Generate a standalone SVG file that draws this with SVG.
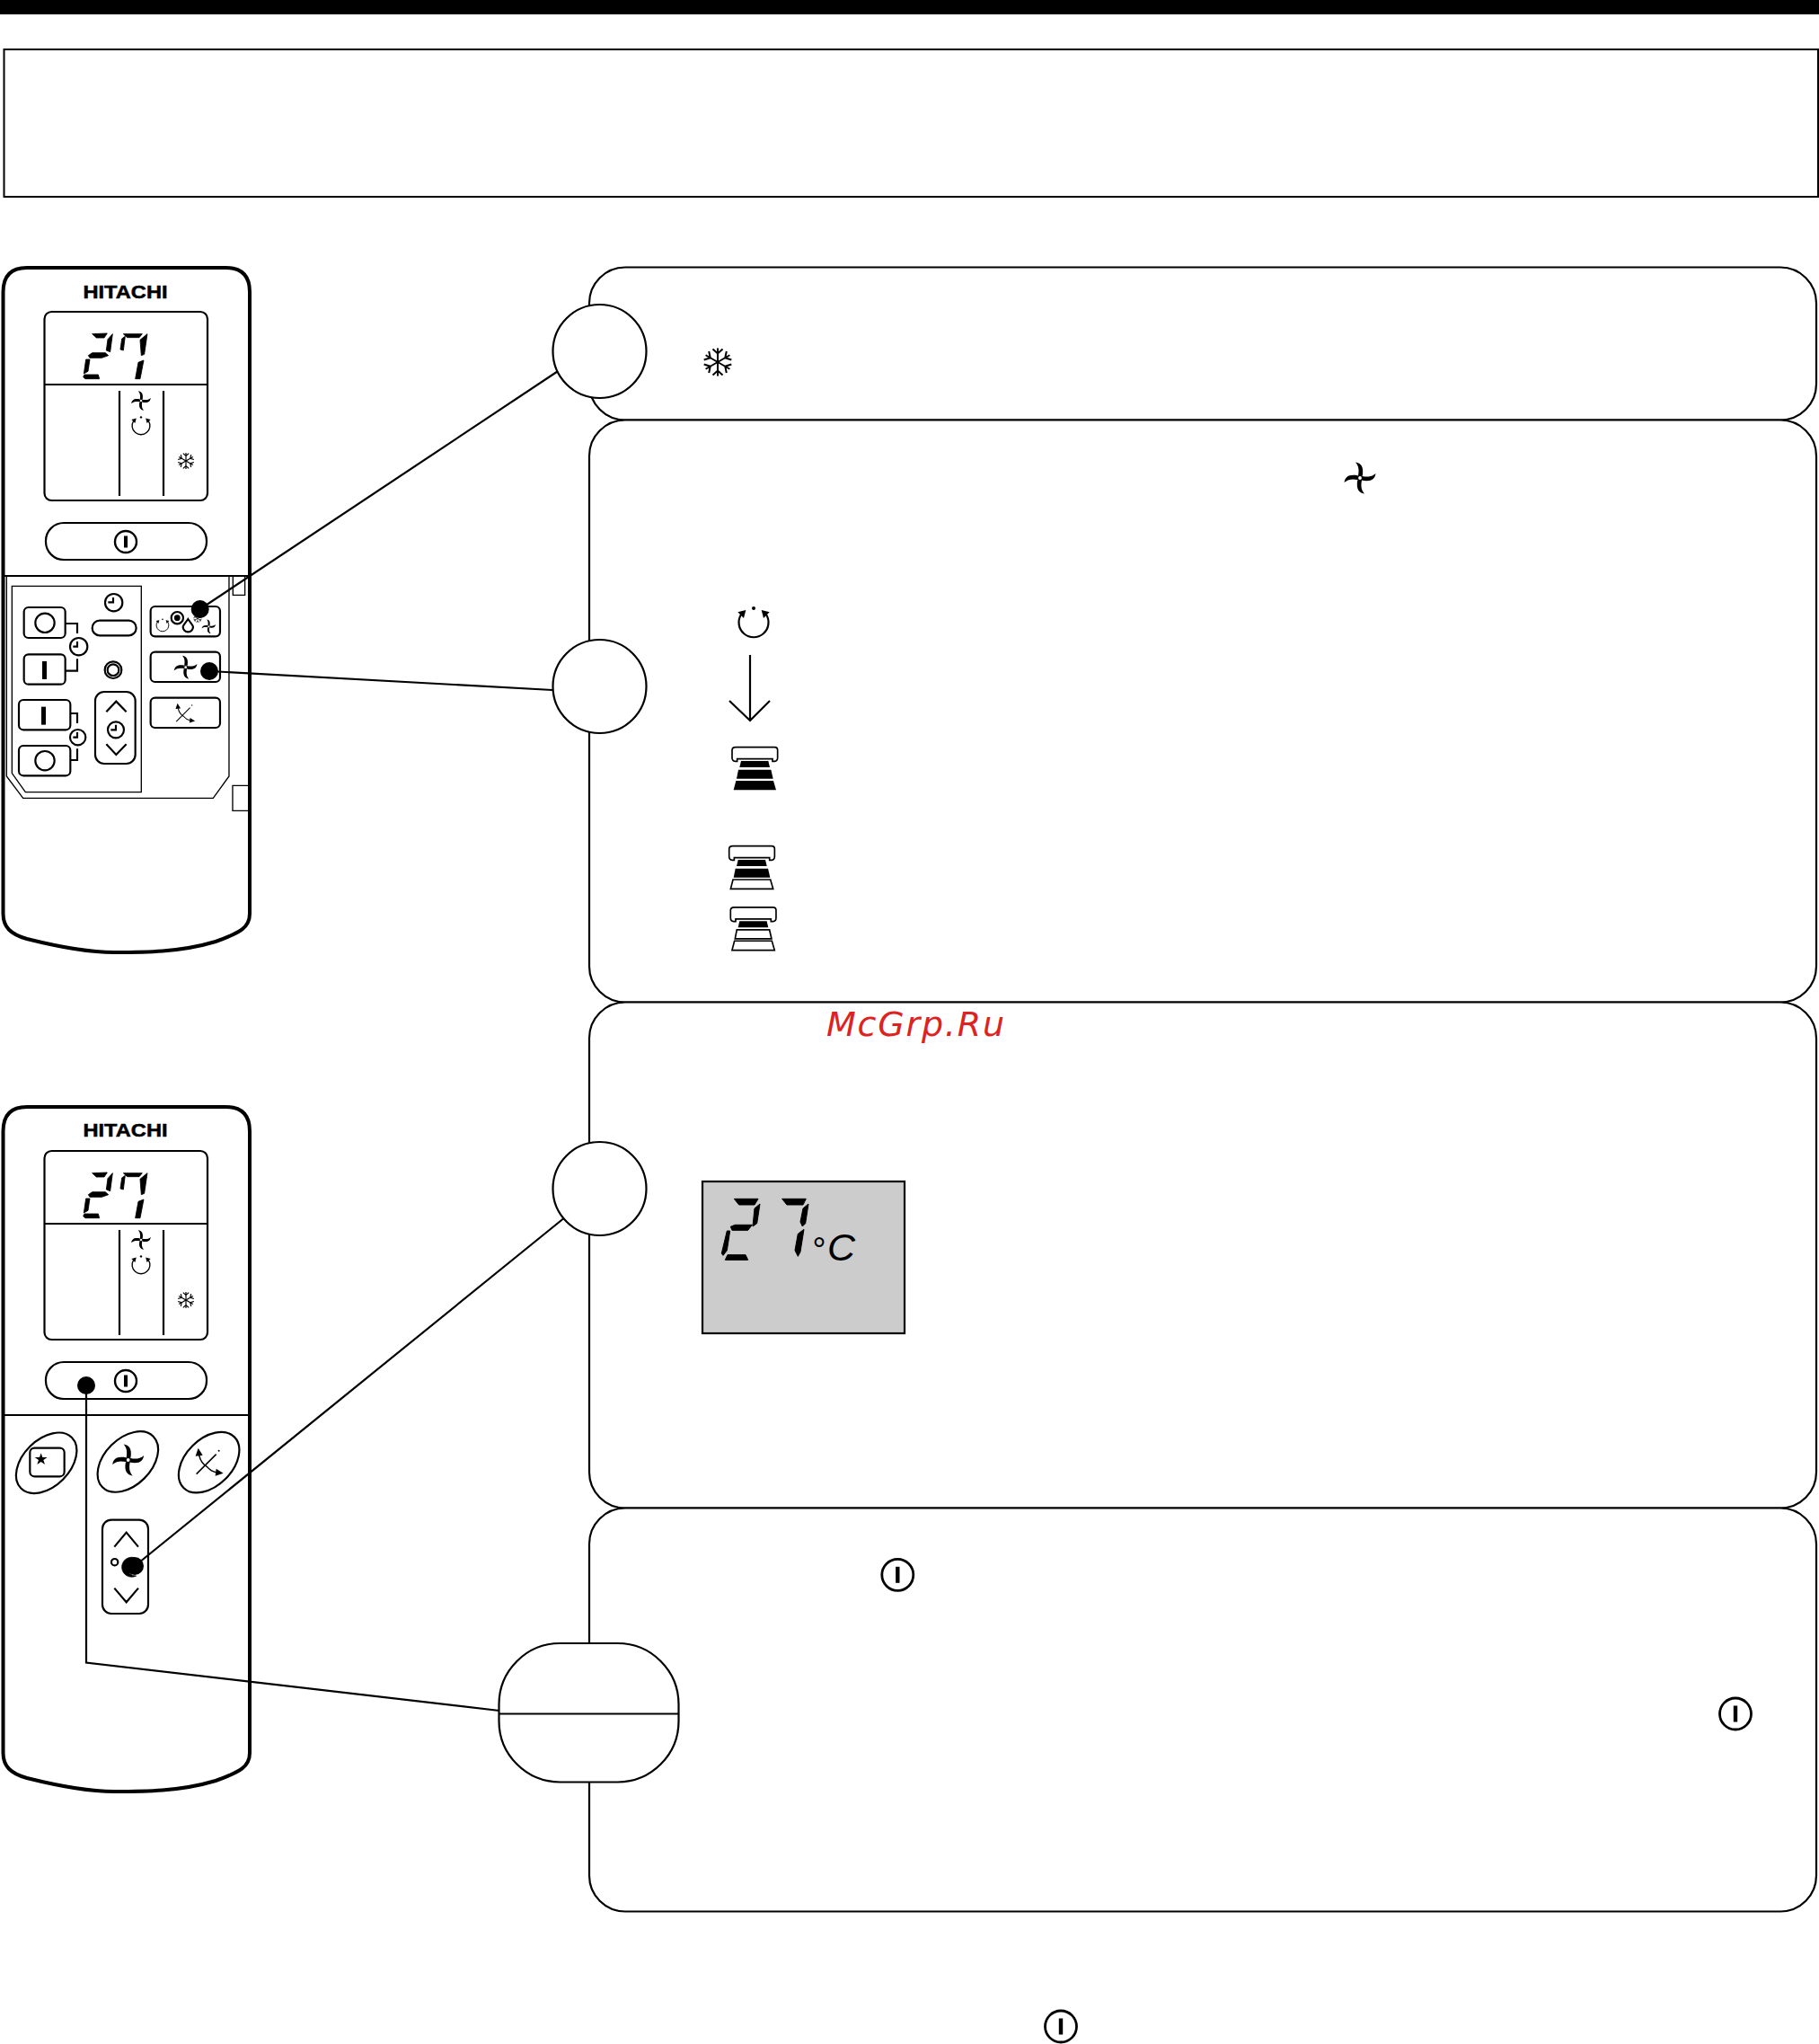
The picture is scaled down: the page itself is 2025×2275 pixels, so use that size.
<svg xmlns="http://www.w3.org/2000/svg" xmlns:xlink="http://www.w3.org/1999/xlink" width="2025" height="2275" viewBox="0 0 2025 2275">
<style>
.o{fill:none;stroke:#000;stroke-width:2.2}
.w{fill:#fff;stroke:#000;stroke-width:2.2}
.k{fill:#000;stroke:none}
.z{stroke-width:6.500;stroke:#000;fill:none}
.z .t{stroke-width:4}
.z .k{stroke:none}
.brand{font-family:"Liberation Sans",Arial,sans-serif;font-weight:700;font-size:20px;fill:#000;stroke:#000;stroke-width:.5}
</style>
<defs>
<path id="blade" d="M-2,-2.500C-1,-8 -1,-13 -5,-17.500C1,-16.500 4.500,-13 2.800,-2.500Z" fill="#000" stroke="none"/>
<g id="fan">
<use xlink:href="#blade"/><use xlink:href="#blade" transform="rotate(90)"/><use xlink:href="#blade" transform="rotate(180)"/><use xlink:href="#blade" transform="rotate(270)"/>
<circle r="2.600" fill="#fff" stroke="#000" stroke-width="1.400"/>
</g>
<g id="rot">
<path d="M-14,-9A16.500,16.500 0 1 0 14,-9" fill="none" stroke="#000" stroke-width="2.200"/>
<polygon points="-17.700,-11.700 -8.700,-14 -11,-5" fill="#000" stroke="none"/>
<polygon points="17.700,-11.700 8.700,-14 11,-5" fill="#000" stroke="none"/>
<circle cy="-16" r="2" fill="#000" stroke="none"/>
</g>
<g id="flakeArm">
<path d="M0,0V-15.500M-5.500,-14.500L0,-9.500L5.500,-14.500" fill="none" stroke="#000" stroke-width="2"/>
</g>
<g id="flake">
<use xlink:href="#flakeArm"/><use xlink:href="#flakeArm" transform="rotate(60)"/><use xlink:href="#flakeArm" transform="rotate(120)"/><use xlink:href="#flakeArm" transform="rotate(180)"/><use xlink:href="#flakeArm" transform="rotate(240)"/><use xlink:href="#flakeArm" transform="rotate(300)"/>
</g>
<g id="swing">
<path d="M-14,13L8,-9M-11,-8Q-9,1 -2,5Q2,10 8,11" fill="none" stroke="#000" stroke-width="1.500"/>
<circle cx="11" cy="-13" r="1" fill="#000" stroke="none"/>
<polygon points="-12,-16 -7,-8 -15,-7" fill="#000" stroke="none"/>
<polygon points="16,12 7,15 8,7" fill="#000" stroke="none"/>
</g>
<g id="power">
<circle r="17.500" fill="#fff" stroke="#000" stroke-width="2.800"/>
<rect x="-2.200" y="-9" width="4.400" height="18" fill="#000"/>
</g>
<g id="powerSmall">
<circle r="12" fill="#fff" stroke="#000" stroke-width="2.400"/>
<rect x="-2" y="-6.500" width="4" height="13" fill="#000"/>
</g>
<g id="unitTop">
<path d="M177,545H307Q317,545 317,555V580Q317,592 307,592H300V584H182V592H175Q165,592 165,580V555Q165,545 177,545Z" fill="#fff" stroke="#000" stroke-width="5"/>
</g>
<polygon id="t1" points="195,591 286,591 291,612 190,612"/>
<polygon id="t2" points="186,620 295,620 302,650 180,650"/>
<polygon id="t3" points="178,657 303,657 312,688 170,688"/>
<g id="digits" stroke="#000" stroke-width="2.500">
<polygon points="68,50 118,48 108,63 82,63"/>
<polygon points="136,50 128,110 115,105 120,68"/>
<polygon points="55,122 68,113 112,113 122,122 100,130 60,130"/>
<polygon points="47,135 60,135 54,175 40,183"/>
<polygon points="42,186 88,186 92,200 45,200 38,194"/>
<polygon points="178,58 172,105 162,102 167,66"/>
<polygon points="172,50 235,50 225,62 185,62"/>
<polygon points="252,50 242,118 232,122 228,70"/>
<polygon points="240,138 228,200 212,200 222,145"/>
</g>
<g id="remoteBody">
<path d="M3.500,325Q3.500,298 30,298H251Q278,298 278,325V1017C278,1032 268,1038 240,1048C200,1060 160,1060 127,1060C90,1060 50,1050 30,1045C12,1040 3.500,1032 3.500,1017Z" fill="#fff" stroke="#000" stroke-width="4"/>
<rect x="49.500" y="347" width="181.500" height="210" rx="8" class="o"/>
<path d="M50,428H230M133,435V552M182,435V552" class="o"/>
<use xlink:href="#digits" transform="translate(80,355) scale(.3333)"/>
<use xlink:href="#fan" transform="translate(157,446) scale(.62)"/>
<use xlink:href="#rot" transform="translate(157,474) scale(.6)"/>
<use xlink:href="#flake" transform="translate(207,513) scale(.58)"/>
<rect x="51" y="582" width="179" height="41" rx="20" class="o"/>
<use xlink:href="#powerSmall" transform="translate(140,603)"/>
<path d="M4,641H277" class="o"/>
</g>
</defs>
<g id="header">
<rect x="0" y="0" width="2025" height="16" fill="#000"/>
<rect x="4.500" y="55" width="2019.500" height="164" fill="#fff" stroke="#000" stroke-width="2"/>
</g>
<g id="panel-1"><rect x="656" y="297.500" width="1366" height="170" rx="40" class="w"/>
<use xlink:href="#flake" transform="translate(799,403)"/></g>
<g id="panel-2"><rect x="656" y="467.500" width="1366" height="648" rx="40" class="w"/>
<use xlink:href="#fan" transform="translate(1514,532)"/>
<use xlink:href="#rot" transform="translate(839,693)"/>
<path d="M835,729V802M812,780L835,802L857,780" fill="none" stroke="#000" stroke-width="2.200"/>
<g transform="translate(760,650) scale(.3333)">
<use xlink:href="#unitTop"/><use xlink:href="#t1"/><use xlink:href="#t2"/><use xlink:href="#t3"/>
</g>
<g transform="translate(756.700,760) scale(.3333)">
<use xlink:href="#unitTop"/><use xlink:href="#t1"/><use xlink:href="#t2"/><use xlink:href="#t3" fill="#fff" stroke="#000" stroke-width="5"/>
</g>
<g transform="translate(758.300,828.300) scale(.3333)">
<use xlink:href="#unitTop"/><use xlink:href="#t1"/><use xlink:href="#t2" fill="#fff" stroke="#000" stroke-width="5"/><use xlink:href="#t3" fill="#fff" stroke="#000" stroke-width="5"/>
</g></g>
<g id="panel-3"><rect x="656" y="1115.500" width="1366" height="563" rx="40" class="w"/>
<rect x="782" y="1315" width="225" height="169" fill="#ccc" stroke="#000" stroke-width="2.200"/>
<g transform="translate(760,1290) scale(.3333)" stroke="#000" stroke-width="3">
<polygon points="172,133 252,133 240,153 188,153"/>
<polygon points="258,150 248,215 234,225 240,165"/>
<polygon points="160,226 175,220 232,220 218,238 165,238"/>
<polygon points="148,240 158,240 148,305 135,322 130,315"/>
<polygon points="150,320 210,320 218,337 142,337"/>
<polygon points="332,133 412,133 402,153 348,153"/>
<polygon points="420,150 410,215 400,225 393,210 402,165"/>
<polygon points="405,235 393,310 385,325 375,305 385,250"/>
</g>
<text x="903" y="1404" font-family="'Liberation Sans',Arial,sans-serif" font-style="italic" font-size="38" fill="#000">°<tspan x="921" y="1403" font-size="43">C</tspan></text>
</g>
<g id="panel-4"><rect x="656" y="1678.500" width="1366" height="449" rx="40" class="w"/>
<use xlink:href="#power" transform="translate(999.300,1752.800)"/>
<use xlink:href="#power" transform="translate(1932,1907.500)"/>
</g>
<use id="power-bottom" xlink:href="#power" transform="translate(1181,2255.500)"/>
<g id="remote-1">
<use xlink:href="#remoteBody"/>
<text class="brand" x="92.500" y="332" textLength="94" lengthAdjust="spacingAndGlyphs">HITACHI</text>
<g class="z" transform="translate(0,620) scale(.3333)">
<g class="t"><path d="M22,62V732L77,805H712L765,732V62"/><path d="M40,97H472V785H85L40,722Z"/><path d="M778,65V127H818V65"/><path d="M828,763H777V847H828"/></g>
<rect x="80" y="168" width="138" height="102" rx="15"/><circle cx="150" cy="220" r="32"/>
<path d="M218,222H258V255M258,340V380H218"/><circle cx="263" cy="299" r="29"/><path d="M258,282V299H244"/>
<rect x="80" y="325" width="138" height="100" rx="15"/><rect class="k" x="141" y="348" width="15" height="60"/>
<rect x="63" y="477" width="172" height="100" rx="15"/><rect class="k" x="138" y="500" width="15" height="60"/>
<path d="M235,522H258V555M258,640V678H235"/><circle cx="260" cy="602" r="26"/><path d="M258,585V602H244"/>
<rect x="63" y="630" width="172" height="100" rx="15"/><circle cx="150" cy="680" r="32"/>
<circle cx="380" cy="152" r="29"/><path d="M378,135V151H361"/>
<rect x="308" y="212" width="147" height="50" rx="25"/>
<circle cx="378" cy="377" r="28"/><circle cx="378" cy="377" r="19"/>
<rect x="318" y="450" width="134" height="240" rx="30"/>
<path d="M355,517L388,482L422,517M355,625L388,660L422,625"/>
<circle cx="387" cy="577" r="27"/><path d="M387,560V577H370"/>
<rect x="503" y="165" width="232" height="100" rx="15"/>
<use xlink:href="#rot" transform="translate(543,228) scale(1.250)"/>
<circle cx="592" cy="203" r="20"/><circle class="k" cx="592" cy="203" r="10"/>
<path d="M628,207C638,222 645,228 645,233A17,17 0 1 1 611,233C611,228 618,222 628,207Z"/>
<use xlink:href="#flake" transform="translate(660,205) scale(.9)"/>
<use xlink:href="#fan" transform="translate(697,232) scale(1.330)"/>
<rect x="503" y="317" width="232" height="100" rx="15"/>
<use xlink:href="#fan" transform="translate(620,368) scale(2.200)"/>
<rect x="503" y="470" width="232" height="100" rx="15"/>
<use xlink:href="#swing" transform="translate(618,522) scale(2.100)"/>
</g>
</g>
<g id="remote-2">
<use xlink:href="#remoteBody" transform="translate(0,934)"/>
<text class="brand" x="92.500" y="1265" textLength="94" lengthAdjust="spacingAndGlyphs">HITACHI</text>
<g class="z" transform="translate(0,1500) scale(.3333)">
<ellipse cx="155" cy="385" rx="120" ry="78" transform="rotate(-45 155 385)"/>
<rect x="100" y="335" width="115" height="95" rx="15"/>
<polygon class="k" points="137,352 142,366 158,366 145,375 150,390 137,381 124,390 129,375 116,366 132,366"/>
<ellipse cx="427" cy="381" rx="120" ry="78" transform="rotate(-45 427 381)"/>
<use xlink:href="#fan" transform="translate(428,375) scale(3)"/>
<ellipse cx="698" cy="383" rx="120" ry="78" transform="rotate(-45 698 383)"/>
<use xlink:href="#swing" transform="translate(698,383) scale(3)"/>
<rect x="342" y="575" width="153" height="313" rx="30"/>
<path d="M382,665L422,617L462,665M382,803L422,850L462,803"/>
<circle cx="383" cy="716" r="11"/>
<path d="M452,702A33,33 0 1 0 455,762A29,30 0 1 1 452,702Z" fill="#000" stroke="#000" stroke-width="2"/>
</g>
</g>
<g id="connectors" fill="none" stroke="#000" stroke-width="2.200">
<path d="M222.700,678L622,412.500"/>
<path d="M233,747L615,768"/>
<path d="M150,1743L627,1356.500"/>
<path d="M96,1542V1850.500L556,1904"/>
</g>
<g id="dots" fill="#000">
<circle cx="222.700" cy="678" r="10"/>
<circle cx="233" cy="747" r="10"/>
<circle cx="150" cy="1743" r="10"/>
<circle cx="96" cy="1542" r="10"/>
</g>
<g id="callout-a"><circle cx="667.500" cy="391" r="52" class="w"/></g>
<g id="callout-b"><circle cx="667.500" cy="764" r="52" class="w"/></g>
<g id="callout-c"><circle cx="667.500" cy="1323" r="52" class="w"/></g>
<g id="callout-d"><rect x="555.500" y="1829" width="200" height="154.500" rx="68" class="w"/><path d="M556,1907.500H755" class="o"/></g>
<text id="watermark" x="920" y="1153" font-family="'DejaVu Sans',sans-serif" font-style="italic" font-size="38" letter-spacing="1.800" fill="#dd2222">McGrp.Ru</text>
</svg>
